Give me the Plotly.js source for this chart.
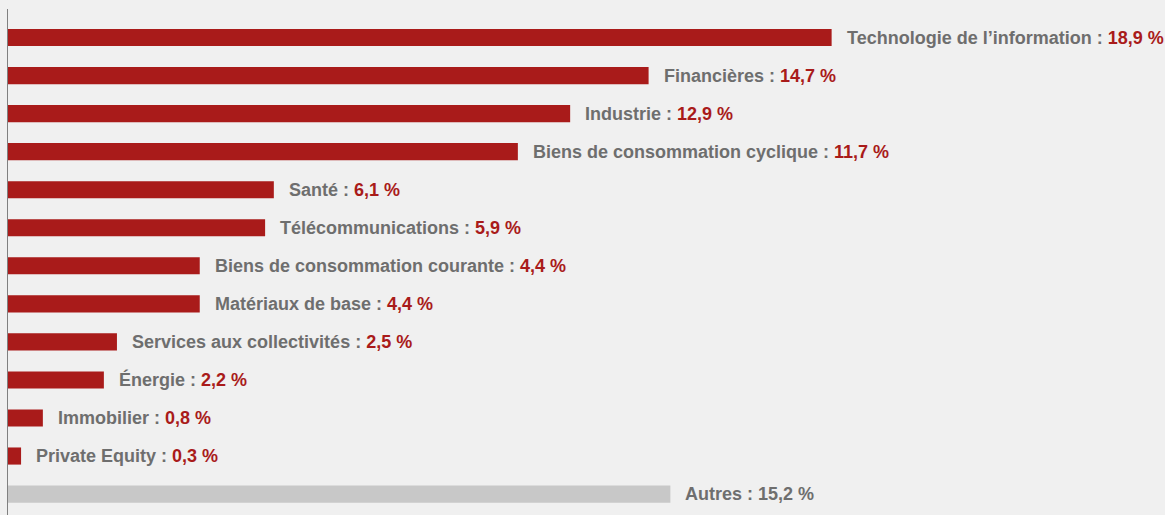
<!DOCTYPE html>
<html><head><meta charset="utf-8">
<script src="https://cdn.plot.ly/plotly-3.0.1.min.js"></script>
<style>html,body{margin:0;padding:0;background:#f0f0f0;}#chart{width:1165px;height:515px;}</style>
</head><body><div id="chart"></div>
<script>
const categories = ["Technologie de l’information","Financières","Industrie","Biens de consommation cyclique","Santé","Télécommunications","Biens de consommation courante","Matériaux de base","Services aux collectivités","Énergie","Immobilier","Private Equity","Autres"];
const values = [18.9,14.7,12.9,11.7,6.1,5.9,4.4,4.4,2.5,2.2,0.8,0.3,15.2];
const valueLabels = ["18,9 %","14,7 %","12,9 %","11,7 %","6,1 %","5,9 %","4,4 %","4,4 %","2,5 %","2,2 %","0,8 %","0,3 %","15,2 %"];

const RED = "#a91b1a", GRAYBAR = "#c8c8c8", TXT = "#6e6e6e";
const pos = categories.map((c,i)=>i);
const colors = categories.map((c,i)=> c==="Autres" ? GRAYBAR : RED);

const annotations = categories.map((c,i)=>({
  x: values[i], y: pos[i], xref:'x', yref:'y', xanchor:'left', yanchor:'middle',
  xshift: 13, showarrow:false,
  text: c==="Autres" ? `<span style="color:${TXT}">${c} : ${valueLabels[i]}</span>`
        : `<span style="color:${TXT}">${c} : </span><span style="color:${RED}">${valueLabels[i]}</span>`,
  font:{family:"Liberation Sans, Arial, sans-serif", size:18, weight:700, color:TXT}
}));

Plotly.newPlot('chart', [{
  type:'bar', orientation:'h', x: values, y: pos,
  marker:{color: colors, line:{width:0}}, width:0.45, hoverinfo:'none'
}], {
  width:1165, height:515,
  margin:{l:8, r:0, t:9, b:0, pad:0},
  paper_bgcolor:'#f0f0f0', plot_bgcolor:'#f0f0f0',
  showlegend:false,
  xaxis:{range:[0,26.55], showgrid:false, zeroline:false, showticklabels:false, showline:false, fixedrange:true},
  yaxis:{range:[12.55,-0.75], showgrid:false, zeroline:false, showticklabels:false, showline:true, linecolor:'#808080', linewidth:1.5, fixedrange:true},
  annotations: annotations
}, {displayModeBar:false, staticPlot:true});
</script></body></html>
